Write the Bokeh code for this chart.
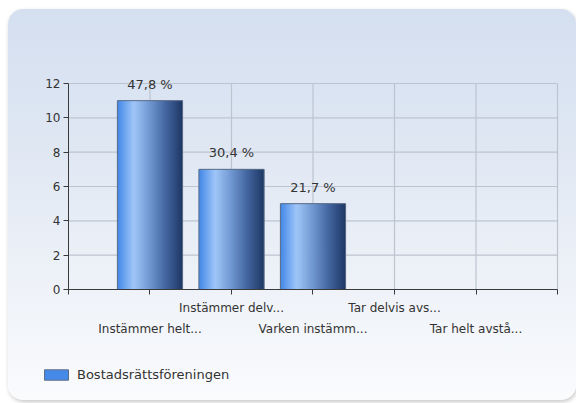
from bokeh.plotting import figure
from bokeh.models import (ColumnDataSource, Range1d, FixedTicker, LabelSet,
                          Legend, LegendItem, LinearAxis)
from bokeh.core.properties import value
from bokeh.embed import file_html
from bokeh.resources import INLINE

# ---- data ----
categories = ["Instämmer helt...", "Instämmer delv...", "Varken instämm...",
              "Tar delvis avs...", "Tar helt avstå..."]
counts = [11, 7, 5, 0, 0]
series_name = "Bostadsrättsföreningen"
y_ticks = [0, 2, 4, 6, 8, 10, 12]

total = sum(counts)
xpos = list(range(1, len(categories) + 1))
x_end = len(categories) + 1
y_max = y_ticks[-1]

FONT = "DejaVu Sans"

# frame fills the whole figure; axes are pinned at 0 with fixed_location
p = figure(width=568, height=391, output_backend="svg", toolbar_location=None,
           x_range=Range1d(-0.736, 6.233), y_range=Range1d(-6.466, 16.311),
           x_axis_location=None, y_axis_location=None,
           min_border_left=0, min_border_right=0, min_border_top=0,
           min_border_bottom=0)
p.styles = {"background": "linear-gradient(to bottom, #d4dff0 0%, #dfe7f3 35%, #eef2f8 70%, #fafbfd 100%)",
            "border-radius": "15px",
            "margin-left": "8px", "margin-top": "9px",
            "box-shadow": "1px 2px 4px rgba(0,0,0,0.22)"}
p.border_fill_alpha = 0
p.background_fill_alpha = 0
p.outline_line_color = None
p.xgrid.visible = False
p.ygrid.visible = False

# grid lines bounded to the plotting area
GRID = "#bcc4cf"
gx = list(range(1, x_end + 1))
p.segment(x0=gx, y0=[0] * len(gx), x1=gx, y1=[y_max] * len(gx),
          line_color=GRID, line_width=1.2)
gy = y_ticks[1:]
p.segment(x0=[0] * len(gy), y0=gy, x1=[x_end] * len(gy), y1=gy,
          line_color=GRID, line_width=1.2)

# axes
labels = {0: "", x_end: ""}
for i, c in enumerate(categories):
    labels[i + 1] = ("\n" + c) if i % 2 == 0 else c
xax = LinearAxis(fixed_location=0, bounds=(0, x_end),
                 ticker=FixedTicker(ticks=list(range(0, x_end + 1))),
                 major_label_overrides=labels)
xax.major_label_text_line_height = 1.5
xax.major_label_standoff = 6
yax = LinearAxis(fixed_location=0, bounds=(0, y_max), ticker=FixedTicker(ticks=y_ticks))
yax.major_label_standoff = 3
for ax in (xax, yax):
    ax.axis_line_color = "#3a3a3a"
    ax.major_tick_line_color = "#3a3a3a"
    ax.major_tick_out = 5
    ax.major_tick_in = 0
    ax.minor_tick_line_color = None
    ax.major_label_text_font = FONT
    ax.major_label_text_font_size = "12px"
    ax.major_label_text_color = "#333333"
p.add_layout(xax, "below")
p.add_layout(yax, "left")

# bars with horizontal gradient built from slices
stops = [(0.0, (66, 135, 232)), (0.25, (160, 198, 248)), (0.5, (112, 150, 208)),
         (0.75, (66, 100, 158)), (1.0, (30, 55, 100))]

def grad(t):
    for (t0, c0), (t1, c1) in zip(stops[:-1], stops[1:]):
        if t0 <= t <= t1:
            f = (t - t0) / (t1 - t0)
            return "#%02x%02x%02x" % tuple(int(round(a + (b - a) * f)) for a, b in zip(c0, c1))
    return "#%02x%02x%02x" % stops[-1][1]

bar_w = 0.8
N = 48
sx, stop_, sw, sc = [], [], [], []
for x, c in zip(xpos, counts):
    for i in range(N):
        t = (i + 0.5) / N
        w = bar_w / N * (2.0 if i < N - 1 else 1.0)
        left = x - bar_w / 2 + i * bar_w / N
        sx.append(left + w / 2)
        stop_.append(c)
        sw.append(w)
        sc.append(grad(t))
slices = p.vbar(x="x", top="top", width="w", bottom=0, fill_color="c", line_color=None,
                source=ColumnDataSource(dict(x=sx, top=stop_, w=sw, c=sc)))
outline = p.vbar(x=xpos, top=counts, width=bar_w, fill_color=None,
                 line_color="#5a6b85", line_width=1)

# value labels
lab_x = [x for x, c in zip(xpos, counts) if c > 0]
lab_y = [c for c in counts if c > 0]
lab_t = [("%.1f %%" % (c / total * 100)).replace(".", ",") for c in counts if c > 0]
p.add_layout(LabelSet(x="x", y="y", text="t", source=ColumnDataSource(dict(x=lab_x, y=lab_y, t=lab_t)),
                      y_offset=9, text_align="center", text_baseline="bottom",
                      text_font=value(FONT), text_font_size=value("13px"), text_color="#333333"))

# legend
legend = Legend(items=[LegendItem(label=series_name, renderers=[slices, outline], index=0)],
                location=(33, 18), padding=0, margin=0, border_line_alpha=0,
                background_fill_alpha=0, glyph_width=30, glyph_height=13,
                label_text_font=FONT, label_text_font_size="13px",
                label_text_color="#333333", label_standoff=6)
p.add_layout(legend, "center")

open("out.html", "w").write(file_html(p, INLINE))
